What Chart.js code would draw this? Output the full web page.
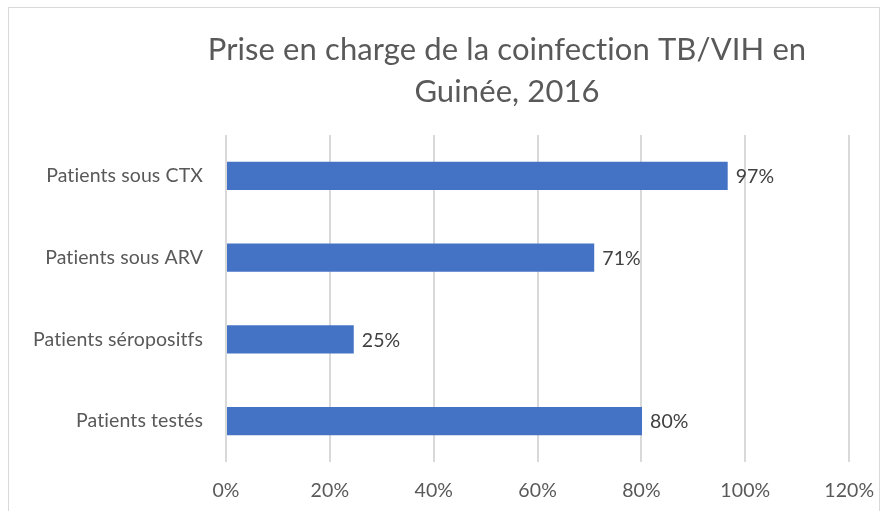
<!DOCTYPE html>
<html>
<head>
<meta charset="utf-8">
<script src="https://cdn.jsdelivr.net/npm/chart.js@4/dist/chart.umd.min.js"></script>
<style>
    body { margin: 0; background: #fff; }
    .frame {
        position: absolute; left: 8px; top: 7px;
        width: 870px; height: 520px;
        border: 1px solid #d9d9d9;
    }
    .wrap { position: absolute; left: 0; top: 0; width: 891px; height: 511px; }
</style>
</head>
<body>
<div class="frame"></div>
<div class="wrap"><canvas id="coinfection-chart"></canvas></div>
<script>
const titleLines = ["Prise en charge de la coinfection TB/VIH en", "Guinée, 2016"];
const categories = ["Patients sous CTX", "Patients sous ARV", "Patients séropositfs", "Patients testés"];
const percentValues = [96.6, 70.9, 24.6, 80.1];
const tickValues = [0, 20, 40, 60, 80, 100, 120];

document.addEventListener("DOMContentLoaded", function () {
    const FONT = "Lato, 'Open Sans', sans-serif";

    // Lato joins "ti" by default; a tiny letter spacing turns that off
    const noLigatures = {
        id: "noLigatures",
        beforeDraw(chart) {
            chart.ctx.letterSpacing = "0.1px";
        },
    };

    // Title drawn over the chart, centred like the original
    const titlePlugin = {
        id: "titleText",
        afterDraw(chart) {
            const ctx = chart.ctx;
            ctx.save();
            ctx.font = "31px " + FONT;
            ctx.fillStyle = "#595959";
            ctx.textAlign = "center";
            ctx.textBaseline = "middle";
            titleLines.forEach(function (line, i) {
                ctx.fillText(line, 507, 50 + i * 42);
            });
            ctx.restore();
        },
    };

    // Value labels at the end of each bar
    const valueLabels = {
        id: "valueLabels",
        afterDatasetsDraw(chart) {
            const ctx = chart.ctx;
            const meta = chart.getDatasetMeta(0);
            ctx.save();
            ctx.font = "19.5px " + FONT;
            ctx.fillStyle = "#404040";
            ctx.textAlign = "left";
            ctx.textBaseline = "middle";
            meta.data.forEach(function (bar, i) {
                ctx.fillText(Math.round(percentValues[i]) + "%", bar.x + 8, bar.y + 1);
            });
            ctx.restore();
        },
    };

    const ctx = document.getElementById("coinfection-chart").getContext("2d");
    new Chart(ctx, {
        type: "bar",
        data: {
            labels: categories,
            datasets: [
                {
                    data: percentValues,
                    backgroundColor: "#4472c4",
                    barPercentage: 0.345,
                    categoryPercentage: 1,
                },
            ],
        },
        options: {
            indexAxis: "y",
            responsive: true,
            maintainAspectRatio: false,
            animation: false,
            layout: {
                padding: { top: 135, right: 41, bottom: 0, left: 0 },
            },
            plugins: {
                legend: { display: false },
                title: { display: false },
                tooltip: { enabled: false },
            },
            scales: {
                x: {
                    min: tickValues[0],
                    max: tickValues[tickValues.length - 1],
                    afterBuildTicks: function (scale) {
                        scale.ticks = tickValues.map(function (v) { return { value: v }; });
                    },
                    afterFit: function (scale) { scale.height = 49; },
                    grid: { color: "#d9d9d9", lineWidth: 2, drawTicks: false },
                    border: { display: false },
                    ticks: {
                        padding: 17,
                        color: "#595959",
                        font: { family: FONT, size: 19.5 },
                        callback: function (v) { return v + "%"; },
                    },
                },
                y: {
                    afterFit: function (scale) { scale.width = 226; },
                    grid: { display: false, drawTicks: false },
                    border: { display: false },
                    ticks: {
                        padding: 23,
                        color: "#595959",
                        font: { family: FONT, size: 19.5 },
                    },
                },
            },
        },
        plugins: [noLigatures, titlePlugin, valueLabels],
    });
});
</script>
</body>
</html>
